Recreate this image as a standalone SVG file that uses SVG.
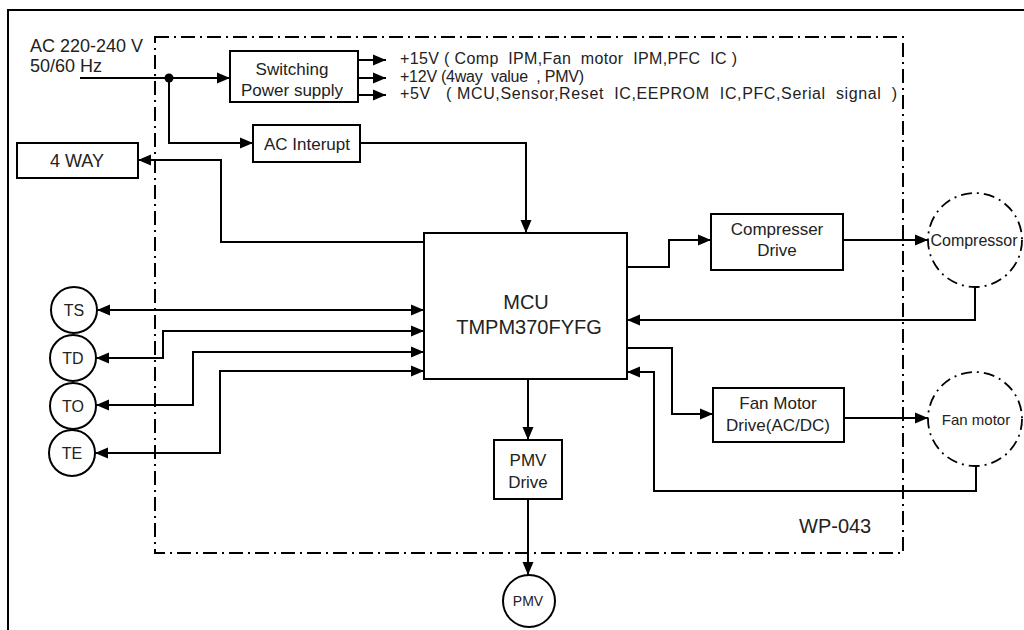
<svg xmlns="http://www.w3.org/2000/svg" width="1024" height="630" viewBox="0 0 1024 630">
<defs>
<marker id="ah" markerUnits="userSpaceOnUse" markerWidth="14" markerHeight="12" refX="13" refY="6" orient="auto-start-reverse">
<path d="M0,0.5 L13,6 L0,11.5 z" fill="#000"/>
</marker>
<style>
.frame{fill:none;stroke:#000;stroke-width:2}
.dd{fill:none;stroke:#000;stroke-width:2;stroke-dasharray:14 5 2 5}
.box{fill:#fff;stroke:#000;stroke-width:2}
.ddc{fill:#fff;stroke:#000;stroke-width:1.8;stroke-dasharray:11 5 2 5}
.ln{fill:none;stroke:#000;stroke-width:2}
.arr{fill:none;stroke:#000;stroke-width:2;marker-end:url(#ah)}
.bi{fill:none;stroke:#000;stroke-width:2;marker-end:url(#ah);marker-start:url(#ah)}
text{font-family:"Liberation Sans",Arial,sans-serif;fill:#222}
.t{font-size:17px}
.c{text-anchor:middle}
</style>
</defs>
<rect x="0" y="0" width="1024" height="630" fill="#fff"/>
<rect class="frame" x="8" y="10" width="1040" height="650"/>
<rect class="dd" x="155" y="37" width="748" height="516"/>

<g id="connectors">
<polyline class="arr" points="80,78 230,78"/>
<circle cx="169" cy="78" r="4.5" fill="#000"/>
<polyline class="arr" points="169,78 169,143 253,143"/>
<polyline class="arr" points="358,60 386,60"/>
<polyline class="arr" points="358,78 386,78"/>
<polyline class="arr" points="358,95 386,95"/>
<polyline class="arr" points="360,143 526,143 526,233"/>
<polyline class="arr" points="424,242 221,242 221,160 138,160"/>
<polyline class="bi" points="97,310 424,310"/>
<polyline class="bi" points="96,358 163,358 163,331 424,331"/>
<polyline class="bi" points="96,405 193,405 193,352 424,352"/>
<polyline class="bi" points="95,453 220,453 220,371 424,371"/>
<polyline class="arr" points="627,267 669,267 669,240 711,240"/>
<polyline class="arr" points="843,240 928,240"/>
<polyline class="arr" points="975,287 975,320 627,320"/>
<polyline class="arr" points="627,348 672,348 672,414 713,414"/>
<polyline class="arr" points="844,418 928,418"/>
<polyline class="arr" points="976,466 976,491 654,491 654,372 627,372"/>
<polyline class="arr" points="528,379 528,440"/>
<polyline class="arr" points="528,499 528,575"/>
</g>

<g id="ac-input">
<text x="30" y="52" font-size="18">AC 220-240 V</text>
<text x="30" y="72" font-size="18">50/60 Hz</text>
</g>

<g id="switching">
<rect class="box" x="230" y="51" width="128" height="51"/>
<text class="t c" x="292" y="75">Switching</text>
<text class="t c" x="292" y="96">Power supply</text>
</g>

<g id="outputs">
<text x="400" y="64" font-size="16" xml:space="preserve" textLength="337" lengthAdjust="spacing">+15V ( Comp  IPM,Fan  motor  IPM,PFC  IC )</text>
<text x="400" y="82" font-size="16" xml:space="preserve" textLength="184" lengthAdjust="spacing">+12V (4way  value  , PMV)</text>
<text x="400" y="99" font-size="16" xml:space="preserve" textLength="497" lengthAdjust="spacing">+5V   ( MCU,Sensor,Reset  IC,EEPROM  IC,PFC,Serial  signal  )</text>
</g>

<g id="ac-interupt">
<rect class="box" x="253" y="125" width="107" height="37"/>
<text class="t c" x="307" y="150">AC Interupt</text>
</g>

<g id="four-way">
<rect class="box" x="17" y="143" width="121" height="35"/>
<text class="c" x="77" y="167" font-size="18">4 WAY</text>
</g>

<g id="mcu">
<rect class="box" x="424" y="233" width="203" height="146"/>
<text class="c" x="526" y="309" font-size="20">MCU</text>
<text class="c" x="529" y="334" font-size="20">TMPM370FYFG</text>
</g>

<g id="ts"><circle class="box" cx="74" cy="310" r="23"/><text class="c" x="74" y="316" font-size="16">TS</text></g>
<g id="td"><circle class="box" cx="73" cy="358" r="23"/><text class="c" x="73" y="364" font-size="16">TD</text></g>
<g id="to"><circle class="box" cx="73" cy="406" r="23"/><text class="c" x="73" y="412" font-size="16">TO</text></g>
<g id="te"><circle class="box" cx="72" cy="453" r="23"/><text class="c" x="72" y="459" font-size="16">TE</text></g>

<g id="compresser-drive">
<rect class="box" x="711" y="214" width="132" height="56"/>
<text class="t c" x="777" y="235">Compresser</text>
<text class="t c" x="777" y="256">Drive</text>
</g>

<g id="compressor">
<circle class="ddc" cx="975" cy="240" r="47"/>
<text class="c" x="974" y="246" font-size="16">Compressor</text>
</g>

<g id="fan-motor-drive">
<rect class="box" x="713" y="388" width="131" height="54"/>
<text class="t c" x="778" y="409">Fan Motor</text>
<text class="t c" x="778" y="431">Drive(AC/DC)</text>
</g>

<g id="fan-motor">
<circle class="ddc" cx="975" cy="419" r="47"/>
<text class="c" x="976" y="425" font-size="15">Fan motor</text>
</g>

<g id="pmv-drive">
<rect class="box" x="494" y="440" width="68" height="59"/>
<text class="t c" x="528" y="466">PMV</text>
<text class="t c" x="528" y="488">Drive</text>
</g>

<g id="pmv">
<circle class="box" cx="529" cy="601" r="26"/>
<text class="c" x="528" y="606" font-size="14">PMV</text>
</g>

<text x="799" y="533" font-size="20">WP-043</text>
</svg>
